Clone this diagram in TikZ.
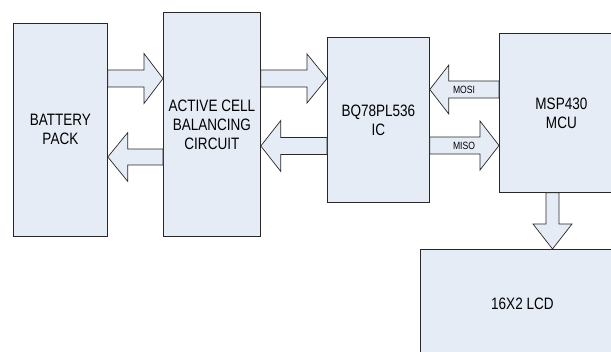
\documentclass[tikz,border=0pt]{standalone}
\usepackage{fontspec}
\newfontfamily\lblfont[FakeStretch=0.82]{Liberation Sans}
\usetikzlibrary{calc}
\definecolor{boxfill}{RGB}{230,236,246}
\definecolor{edge}{RGB}{40,40,40}
\tikzset{
  blockbox/.style={draw=edge, line width=0.8pt, fill=boxfill, anchor=north west, inner sep=0pt,
    align=center, font=\lblfont\fontsize{16.5}{19}\selectfont},
  arr/.style={draw=edge, line width=0.7pt, fill=boxfill, line join=miter},
  smalllbl/.style={inner sep=0pt, font=\lblfont\fontsize{10.5}{12}\selectfont}
}
% horizontal block arrow: from anchor, to anchor, centre y, body half, head half, signed head length
\newcommand\harr[6]{%
  \draw[arr] ($(#1|-0,#3)+(0,{-(#4)})$) -- ($(#2|-0,#3)+({-(#6)},{-(#4)})$) -- ($(#2|-0,#3)+({-(#6)},{-(#5)})$)
    -- (#2|-0,#3) -- ($(#2|-0,#3)+({-(#6)},{#5})$) -- ($(#2|-0,#3)+({-(#6)},{#4})$) -- ($(#1|-0,#3)+(0,{#4})$) -- cycle;}
% vertical (downward) block arrow: from anchor, to anchor, centre x, body half, head half, head length
\newcommand\varr[6]{%
  \draw[arr] ($(#1-|#3,0)+({-(#4)},0)$) -- ($(#2-|#3,0)+({-(#4)},{-(#6)})$) -- ($(#2-|#3,0)+({-(#5)},{-(#6)})$)
    -- (#2-|#3,0) -- ($(#2-|#3,0)+({#5},{-(#6)})$) -- ($(#2-|#3,0)+({#4},{-(#6)})$) -- ($(#1-|#3,0)+({#4},0)$) -- cycle;}
\begin{document}
\begin{tikzpicture}[x=1pt,y=-1pt]
\useasboundingbox (0,0) rectangle (611,352);
\clip (0,0) rectangle (611,352);
\node[blockbox, minimum width=94pt, minimum height=213pt] (bat) at (13,23) {BATTERY\\PACK};
\node[blockbox, minimum width=97pt, minimum height=224pt] (act) at (163,12) {ACTIVE CELL\\BALANCING\\CIRCUIT};
\node[blockbox, minimum width=102pt, minimum height=165pt] (bq) at (327,37) {BQ78PL536\\IC};
\node[blockbox, minimum width=124pt, minimum height=159pt] (msp) at (499,33) {MSP430\\MCU};
\node[blockbox, minimum width=204pt, minimum height=108pt] (lcd) at (420,249) {16X2 LCD};
\harr{bat.east}{act.west}{78.5}{8.5}{25}{19}
\harr{act.west}{bat.east}{157}{8}{24.5}{-20}
\harr{act.east}{bq.west}{78.5}{8.5}{24.5}{20}
\harr{bq.west}{act.east}{146}{8.5}{25.5}{-20}
\harr{msp.west}{bq.east}{89.5}{8.5}{24.5}{-19}
\harr{bq.east}{msp.west}{145.5}{8.5}{24.5}{19}
\varr{msp.south}{lcd.north}{552.5}{6.5}{19.5}{25}
\node[smalllbl] (mosi) at (464,89.5) {MOSI};
\node[smalllbl] (miso) at (464,145.5) {MISO};
\end{tikzpicture}
\end{document}
